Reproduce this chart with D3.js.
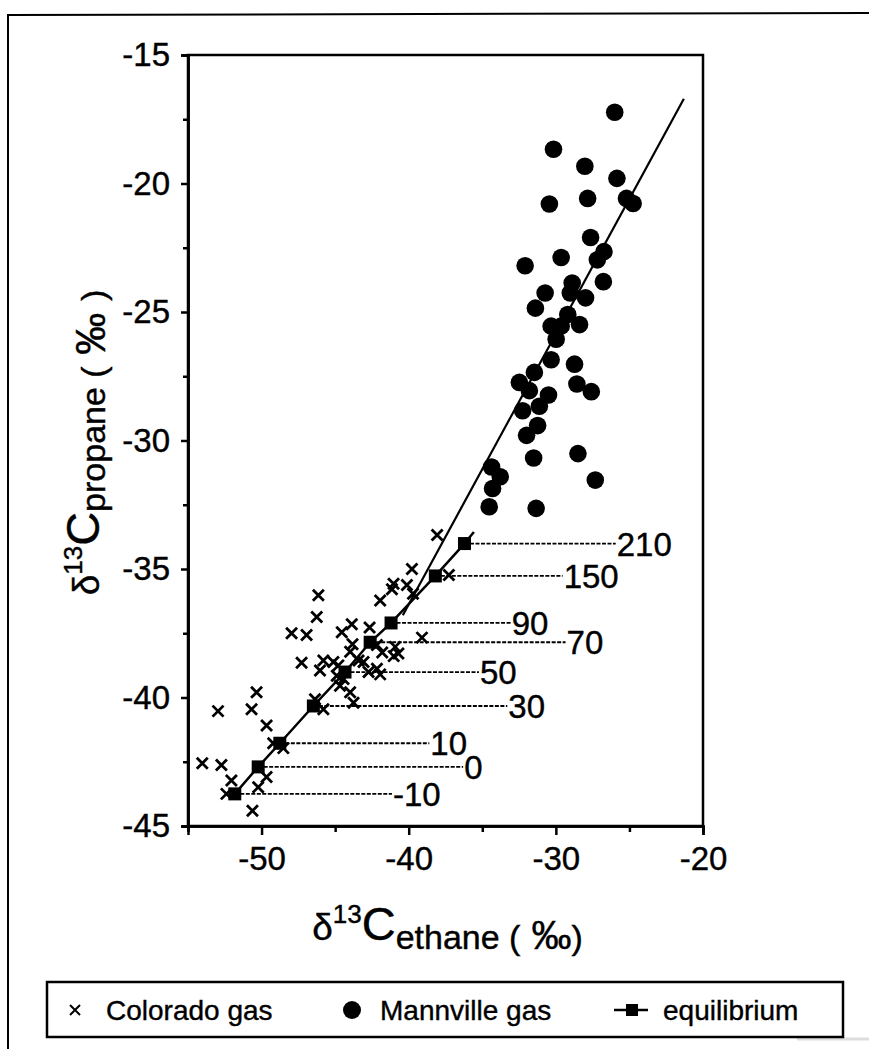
<!DOCTYPE html>
<html>
<head>
<meta charset="utf-8">
<script src="https://cdn.jsdelivr.net/npm/d3@7/dist/d3.min.js"></script>
<style>
  html, body { margin: 0; padding: 0; background: #fff; }
  svg { display: block; }
  text { font-family: "Liberation Sans", Arial, Helvetica, sans-serif; fill: #000; stroke: #000; stroke-width: 0.4px; }
</style>
</head>
<body>
<svg id="chart" width="869" height="1049"></svg>
<script>
// ---------------- data ----------------
const mannvilleX = [-26.0,-30.16,-28.03,-25.85,-30.44,-27.84,-25.2,-24.75,-27.64,-26.73,-27.18,-29.64,-32.09,-26.77,-30.73,-28.89,-29.02,-27.98,-31.39,-30.32,-29.19,-28.39,-29.64,-29.98,-30.32,-28.73,-31.46,-32.48,-28.57,-27.59,-31.8,-30.5,-32.26,-31.12,-31.24,-31.99,-31.51,-28.5,-27.32,-34.37,-33.78,-34.3,-34.53,-31.34];
const mannvilleY = [-17.23,-18.67,-19.33,-19.8,-20.8,-20.58,-20.58,-20.78,-22.1,-22.65,-22.97,-22.88,-23.2,-23.82,-24.26,-23.87,-24.26,-24.45,-24.85,-25.55,-25.1,-25.49,-25.55,-26.06,-26.86,-27.03,-27.35,-27.74,-27.8,-28.1,-28.06,-28.23,-28.84,-28.67,-29.42,-29.8,-30.68,-30.51,-31.54,-31.03,-31.41,-31.87,-32.58,-32.64];

const coloradoX = [-38.07,-39.78,-41.03,-40.12,-39.71,-41.14,-37.27,-46.14,-41.94,-46.25,-47.96,-46.94,-43.87,-42.66,-44.55,-39.1,-43.82,-42.16,-40.92,-40.7,-41.8,-41.02,-47.28,-45.8,-46.03,-45.12,-43.41,-44.78,-43.98,-42.16,-42.73,-41.94,-44.67,-43.98,-43.07,-43.75,-46.37,-45.8,-44.89,-44.43,-50.34,-52.96,-50.68,-49.66,-48.52,-49.21,-54.03,-52.73,-49.66,-50.23,-52.05,-52.39,-50.62];
const coloradoY = [-33.68,-35.0,-35.57,-35.62,-35.96,-35.79,-35.23,-36.02,-36.23,-36.87,-37.5,-37.57,-37.15,-37.28,-37.46,-37.67,-37.93,-37.96,-38.03,-38.29,-38.25,-38.39,-38.65,-38.56,-38.95,-38.62,-38.56,-38.75,-38.22,-38.88,-39.01,-39.1,-39.54,-39.8,-38.62,-40.2,-40.07,-40.46,-39.15,-39.28,-39.8,-40.53,-40.46,-41.09,-41.97,-41.78,-42.56,-42.63,-43.09,-43.49,-43.23,-43.75,-44.41];

// equilibrium temperatures (labels) and their positions
const eqLabels = ["-10","0","10","30","50","70","90","150","210"];
const eqX = [-51.82,-50.23,-48.76,-46.48,-44.33,-42.62,-41.2,-38.19,-36.21];
const eqY = [-43.75,-42.7,-41.78,-40.33,-39.01,-37.85,-37.1,-35.27,-34.01];
const eqLeaderEndX = [-41.14,-36.3,-38.6,-33.3,-35.23,-29.34,-33.07,-29.54,-25.93];
const eqExtX = [-36.21,-35.57];
const eqExtY = [-34.01,-33.56];

// regression line through the data
const regX = [-40.4,-21.3];
const regY = [-36.8,-16.7];

const xTicksMajor = [-50,-40,-30,-20];
const xTicksMinor = [-45,-35,-25];
const yTicksMajor = [-15,-20,-25,-30,-35,-40,-45];
const yTicksMinor = [-17.5,-22.5,-27.5,-32.5,-37.5,-42.5];

// ---------------- layout ----------------
const svg = d3.select("#chart");
const L = 188, R = 703, T = 55, B = 826;
const x = d3.scaleLinear().domain([-55,-20]).range([L,R]);
const y = d3.scaleLinear().domain([-45,-15]).range([B,T]);

// outer frame (scan border)
svg.append("path").attr("d","M8,1049 L8,15 L869,13").attr("fill","none").attr("stroke","#000").attr("stroke-width",2);
svg.append("line").attr("x1",797).attr("x2",869).attr("y1",1039).attr("y2",1039).attr("stroke","#ddd").attr("stroke-width",3);

// plot box
svg.append("rect").attr("x",L).attr("y",T).attr("width",R-L).attr("height",B-T)
  .attr("fill","none").attr("stroke","#000").attr("stroke-width",2.5);

// axes
const fontTick = 33;
const fmt = d => String(d);
const xAxis = svg.append("g").attr("transform",`translate(0,${B})`)
  .call(d3.axisBottom(x).tickValues(xTicksMajor).tickSize(9).tickPadding(12).tickFormat(fmt));
svg.append("g").attr("transform",`translate(0,${B})`)
  .call(d3.axisBottom(x).tickValues(xTicksMinor).tickSize(6).tickFormat(""));
const yAxis = svg.append("g").attr("transform",`translate(${L},0)`)
  .call(d3.axisLeft(y).tickValues(yTicksMajor).tickSize(7).tickPadding(11).tickFormat(fmt));
svg.append("g").attr("transform",`translate(${L},0)`)
  .call(d3.axisLeft(y).tickValues(yTicksMinor).tickSize(5).tickFormat(""));
svg.selectAll(".domain").attr("stroke","#000").attr("stroke-width",2.5);
svg.selectAll(".tick line").attr("stroke","#000").attr("stroke-width",2.5);
svg.selectAll(".tick text").attr("font-size",fontTick).attr("font-family",'"Liberation Sans", Arial, sans-serif').attr("fill","#000");

// regression line
svg.append("line")
  .attr("x1",x(regX[0])).attr("y1",y(regY[0]))
  .attr("x2",x(regX[1])).attr("y2",y(regY[1]))
  .attr("stroke","#000").attr("stroke-width",2.2);

// leader lines
const eq = eqLabels.map((t,i)=>({t, x:eqX[i], y:eqY[i], ex:eqLeaderEndX[i]}));
svg.append("g").selectAll("line").data(eq).join("line")
  .attr("x1",d=>x(d.x)).attr("x2",d=>x(d.ex))
  .attr("y1",d=>y(d.y)).attr("y2",d=>y(d.y))
  .attr("stroke","#000").attr("stroke-width",1.8).attr("stroke-dasharray","4,1.5");
svg.append("g").selectAll("text").data(eq).join("text")
  .attr("x",d=>x(d.ex)+1).attr("y",d=>y(d.y)+12)
  .attr("font-size",33).text(d=>d.t);

// equilibrium curve
const eqLine = d3.line().x(d=>x(d.x)).y(d=>y(d.y));
svg.append("path").attr("d",eqLine(eq)).attr("fill","none").attr("stroke","#000").attr("stroke-width",2.5);
svg.append("path").attr("d",eqLine(eqExtX.map((v,i)=>({x:v,y:eqExtY[i]})))).attr("fill","none").attr("stroke","#000").attr("stroke-width",2.5);

// colorado crosses
const cr = 5.5;
svg.append("g").selectAll("path").data(coloradoX.map((v,i)=>({x:v,y:coloradoY[i]}))).join("path")
  .attr("transform",d=>`translate(${x(d.x)},${y(d.y)})`)
  .attr("d",`M${-cr},${-cr}L${cr},${cr}M${-cr},${cr}L${cr},${-cr}`)
  .attr("stroke","#000").attr("stroke-width",2.8).attr("fill","none");

// equilibrium squares
const sq = 13;
svg.append("g").selectAll("rect").data(eq).join("rect")
  .attr("x",d=>x(d.x)-sq/2).attr("y",d=>y(d.y)-sq/2).attr("width",sq).attr("height",sq).attr("fill","#000");

// mannville circles
svg.append("g").selectAll("circle").data(mannvilleX.map((v,i)=>({x:v,y:mannvilleY[i]}))).join("circle")
  .attr("cx",d=>x(d.x)).attr("cy",d=>y(d.y)).attr("r",8.8).attr("fill","#000");

// axis titles
const xt = svg.append("text").attr("x",(L+R)/2+2).attr("y",940).attr("text-anchor","middle");
xt.append("tspan").attr("font-size",37).text("δ");
xt.append("tspan").attr("font-size",26).attr("dy",-17).text("13");
xt.append("tspan").attr("font-size",47).attr("dy",17).text("C");
xt.append("tspan").attr("font-size",34).attr("dy",9).text("ethane");
xt.append("tspan").attr("font-size",34).text(" (");
xt.append("tspan").attr("font-size",40).text(" ‰");
xt.append("tspan").attr("font-size",34).text(")");

const yt = svg.append("text").attr("transform",`translate(99,${(T+B)/2+2}) rotate(-90)`).attr("text-anchor","middle");
yt.append("tspan").attr("font-size",37).text("δ");
yt.append("tspan").attr("font-size",26).attr("dy",-17).text("13");
yt.append("tspan").attr("font-size",47).attr("dy",17).text("C");
yt.append("tspan").attr("font-size",34).attr("dy",6).text("propane");
yt.append("tspan").attr("font-size",34).text(" (");
yt.append("tspan").attr("font-size",42).text(" ‰ ");
yt.append("tspan").attr("font-size",34).text(")");

// legend
const lg = svg.append("g");
lg.append("rect").attr("x",47).attr("y",982).attr("width",796).attr("height",55)
  .attr("fill","none").attr("stroke","#000").attr("stroke-width",2.5);
const ly = 1010;
lg.append("path").attr("transform",`translate(75,${ly})`).attr("d","M-5,-5L5,5M-5,5L5,-5").attr("stroke","#000").attr("stroke-width",2);
lg.append("text").attr("x",106).attr("y",ly+10).attr("font-size",28).text("Colorado gas");
lg.append("circle").attr("cx",352).attr("cy",ly).attr("r",9).attr("fill","#000");
lg.append("text").attr("x",380).attr("y",ly+10).attr("font-size",28).text("Mannville gas");
lg.append("line").attr("x1",614).attr("x2",648).attr("y1",ly).attr("y2",ly).attr("stroke","#000").attr("stroke-width",2.5);
lg.append("rect").attr("x",626).attr("y",ly-6).attr("width",12).attr("height",12).attr("fill","#000");
lg.append("text").attr("x",663).attr("y",ly+10).attr("font-size",28).text("equilibrium");
</script>
</body>
</html>
